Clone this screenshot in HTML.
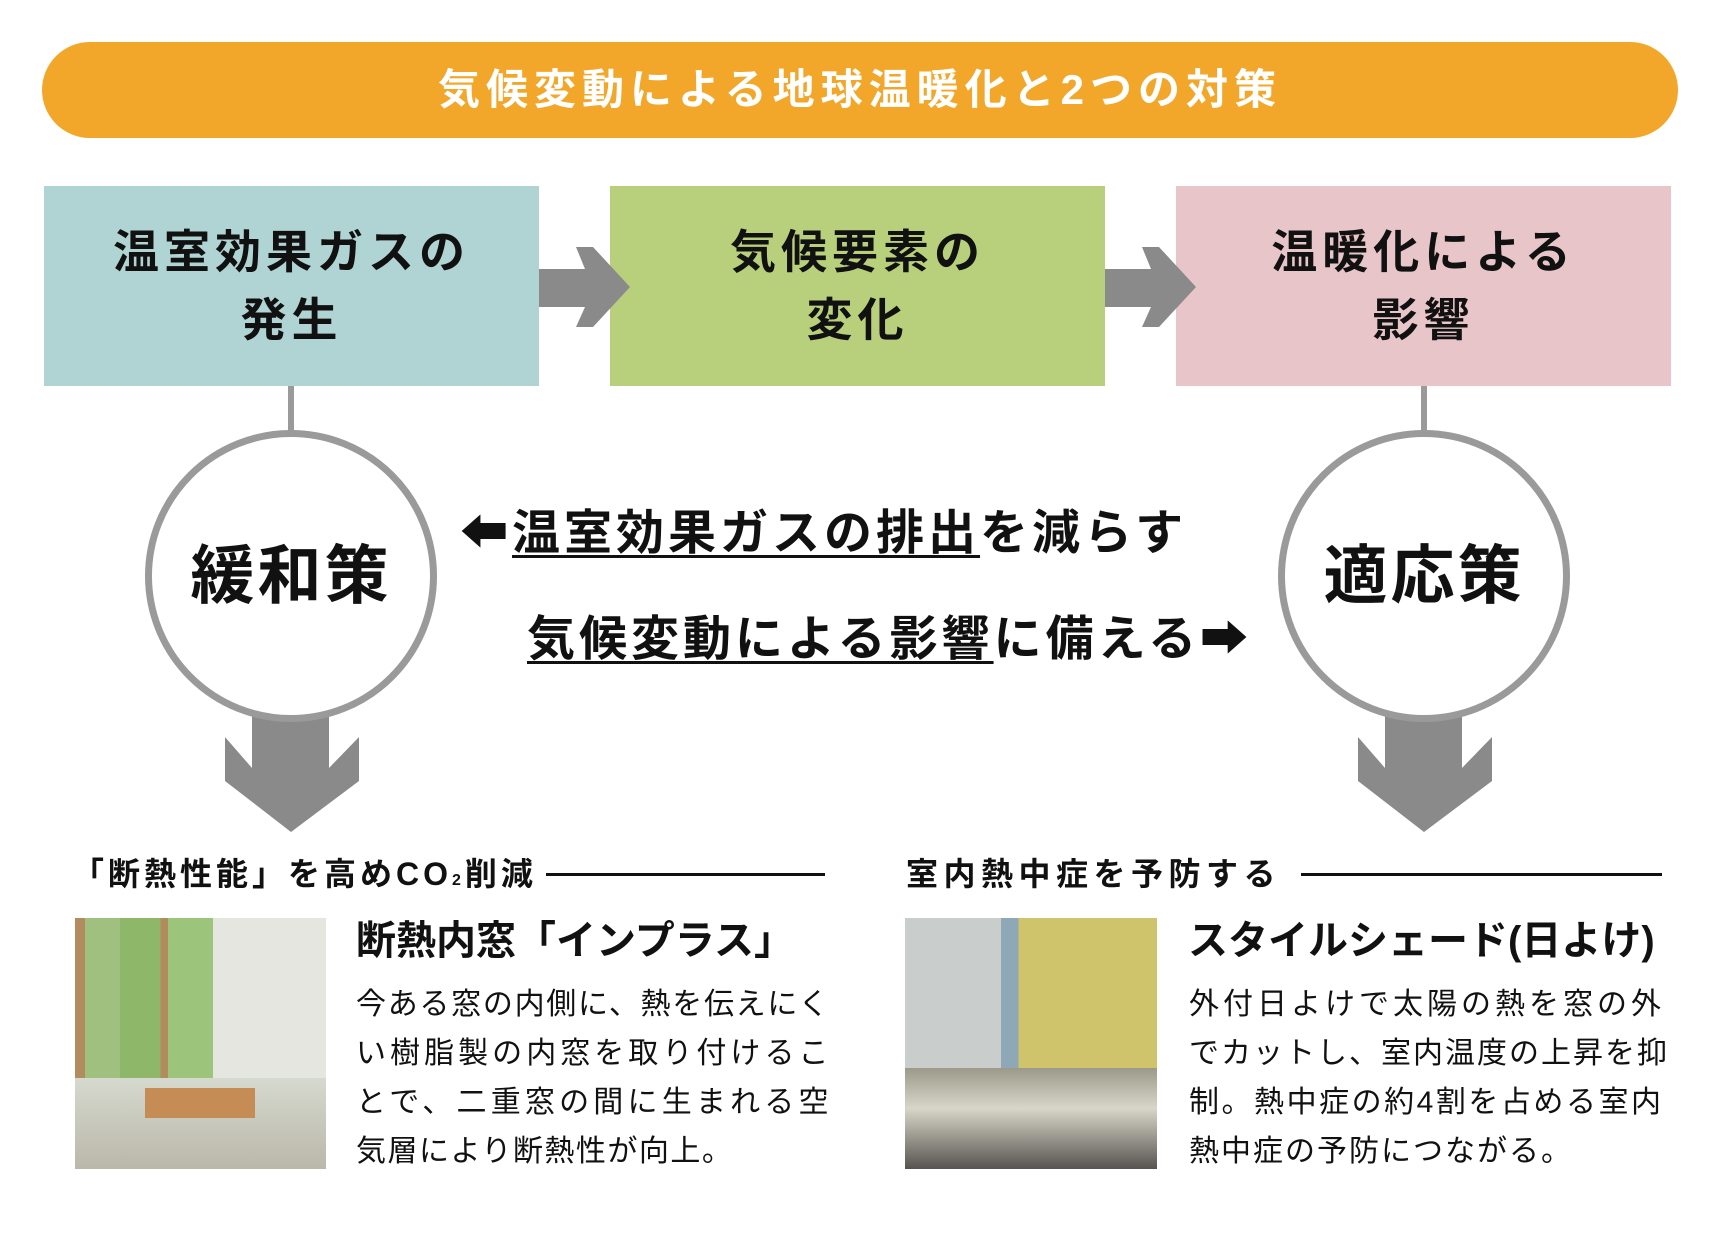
<!DOCTYPE html>
<html><head><meta charset="utf-8"><style>
*{margin:0;padding:0;box-sizing:border-box}
body{width:1711px;height:1235px;background:#fff;position:relative;overflow:hidden;font-family:"Liberation Sans","Noto Sans CJK JP",sans-serif;font-weight:bold;color:#111}
.a{position:absolute}
.pill{left:42px;top:42px;width:1636px;height:96px;border-radius:48px;background:#f3a72a;color:#fff;font-size:42px;letter-spacing:6px;text-align:center;line-height:96px}
.box{top:186px;height:200px;width:495px;font-size:46px;letter-spacing:5px;text-align:center;display:flex;flex-direction:column;justify-content:center;line-height:68px}
.circ{width:292px;height:292px;border-radius:50%;border:7px solid #9a9a9a;background:#fff;font-size:64px;letter-spacing:3px;text-align:center;line-height:278px}
.mid{font-size:48px;letter-spacing:4px;white-space:nowrap;line-height:60px}
.u{text-decoration:underline;text-decoration-thickness:3px;text-underline-offset:6px}
.h{font-size:32px;top:852px;line-height:44px;white-space:nowrap}
.ln{height:3px;background:#111;top:873px}
.t{font-size:40px;top:915px;line-height:52px;white-space:nowrap}
.b{font-size:30px;font-weight:normal;line-height:49px;white-space:nowrap;top:980px;width:474px}
.b div.j{text-align:justify;text-align-last:justify}
</style></head><body>
<div class="a pill">気候変動による地球温暖化と2つの対策</div>
<div class="a box" style="left:44px;background:#b0d3d3"><div>温室効果ガスの</div><div>発生</div></div>
<div class="a box" style="left:610px;background:#b8cf7c"><div>気候要素の</div><div>変化</div></div>
<div class="a box" style="left:1176px;background:#e8c5c8"><div>温暖化による</div><div>影響</div></div>
<svg class="a" style="left:0;top:0" width="1711" height="1235">
<g fill="#8a8a8a">
<polygon points="539,269 585,269 576,247 593,247 630,287 593,327 576,327 585,307 539,307"/>
<polygon points="1105,269 1151,269 1142,247 1159,247 1196,287 1159,327 1142,327 1151,307 1105,307"/>
<polygon points="252,700 329,700 329,768 359,737 359,781 291,832 225,781 225,737 252,768"/>
<polygon points="1385,700 1462,700 1462,768 1492,737 1492,781 1424,832 1358,781 1358,737 1385,768"/>
</g>
<rect x="288" y="386" width="6" height="50" fill="#9a9a9a"/>
<rect x="1421" y="386" width="6" height="50" fill="#9a9a9a"/>
</svg>
<div class="a circ" style="left:145px;top:430px">緩和策</div>
<div class="a circ" style="left:1278px;top:430px">適応策</div>
<div class="a mid" style="left:460px;top:504px">⬅<span class="u">温室効果ガスの排出</span>を減らす</div>
<div class="a mid" style="left:527px;top:610px"><span class="u">気候変動による影響</span>に備える➡</div>
<div class="a h" style="left:72px;letter-spacing:4px">「断熱性能」を高めCO<span style="font-size:16px">2</span>削減</div>
<div class="a ln" style="left:546px;width:279px"></div>
<div class="a h" style="left:906px;letter-spacing:5.5px">室内熱中症を予防する</div>
<div class="a ln" style="left:1301px;width:361px"></div>
<div class="a" style="left:75px;top:918px;width:251px;height:251px;background:linear-gradient(90deg,#b28b5e 0 4%,#9fc07e 4% 18%,#8fb76a 18% 34%,#b28b5e 34% 37%,#9cc47a 37% 55%,#e4e6df 55% 100%)"><div class="a" style="left:0;top:160px;width:251px;height:91px;background:linear-gradient(#d6d9cf,#b9b8a9)"></div><div class="a" style="left:70px;top:170px;width:110px;height:30px;background:#c58c55"></div></div>
<div class="a" style="left:905px;top:918px;width:252px;height:251px;background:linear-gradient(90deg,#c9cdcc 0 38%,#8fa8b8 38% 45%,#cfc46b 45% 100%)"><div class="a" style="left:0;top:150px;width:252px;height:101px;background:linear-gradient(#9b9a8a,#d8d6c8 40%,#575350)"></div></div>
<div class="a t" style="left:356px">断熱内窓「インプラス」</div>
<div class="a b" style="left:356px;letter-spacing:1.5px"><div class="j">今ある窓の内側に、熱を伝えにく</div><div class="j">い樹脂製の内窓を取り付けるこ</div><div class="j">とで、二重窓の間に生まれる空</div><div>気層により断熱性が向上。</div></div>
<div class="a t" style="left:1188px">スタイルシェード(日よけ)</div>
<div class="a b" style="left:1189px;letter-spacing:2px"><div class="j">外付日よけで太陽の熱を窓の外</div><div class="j">でカットし、室内温度の上昇を抑</div><div class="j">制。熱中症の約4割を占める室内</div><div>熱中症の予防につながる。</div></div>
</body></html>
